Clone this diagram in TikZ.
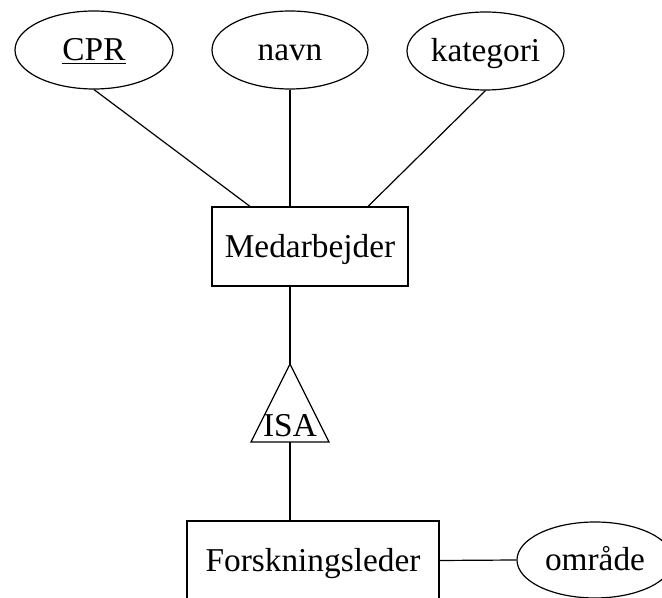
\documentclass[tikz,border=0pt]{standalone}
\usepackage{fontspec}
\setmainfont{Liberation Serif}
\usetikzlibrary{shapes.geometric}
\tikzset{
  attr/.style={draw, ellipse, minimum width=117pt, minimum height=58.5pt, inner sep=0pt,
    text height=19pt, text depth=2.5pt},
  ent/.style={draw, rectangle, minimum height=59.25pt, inner sep=0pt,
    text height=19pt, text depth=2.5pt},
}
\begin{document}
\begin{tikzpicture}[x=0.75pt, y=-0.75pt, line width=0.9pt, font=\fontsize{25}{30}\selectfont]
\clip (0,0) rectangle (662,598);
\node[attr, minimum width=118.5pt] (cpr) at (94,50){\underline{CPR}};
\node[attr] (navn) at (290,50){navn};
\node[attr, minimum width=117.75pt] (kat) at (485.5,51){kategori};
\node[ent, minimum width=147pt] (med) at (310,246.5){Medarbejder};
\coordinate (isatop) at (290,364);
\coordinate (isabot) at (290,442);
\draw (isatop) -- (251,442) -- (329,442) -- cycle;
\node[anchor=base, inner sep=0pt] (isa) at (290,437){ISA};
\node[ent, minimum width=189pt] (fl) at (313,560.5){Forskningsleder};
\node[attr, minimum height=57pt] (omr) at (595,560){område};
\draw (cpr.south) -- ([xshift=-45pt]med.north);
\draw (navn.south) -- (navn.south |- med.north);
\draw (kat.south) -- ([xshift=43.5pt]med.north);
\draw (isatop |- med.south) -- (isatop);
\draw (isabot) -- (isabot |- fl.north);
\draw (fl.east) -- (omr.west);
\end{tikzpicture}
\end{document}
